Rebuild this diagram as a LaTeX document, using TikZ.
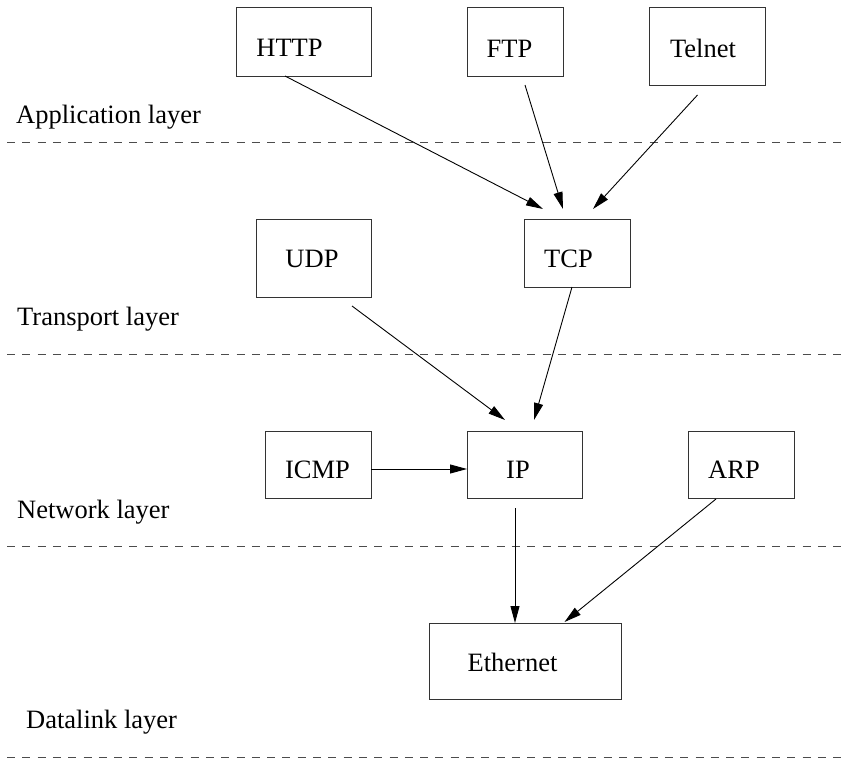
\documentclass[tikz,border=0pt]{standalone}
\usepackage{fontspec}
\setmainfont{Liberation Serif}
\usetikzlibrary{arrows.meta,calc}
\begin{document}
\begin{tikzpicture}[x=1pt,y=-1pt,
  box/.style={draw=black!80,line width=1pt,inner sep=0pt,outer sep=0pt},
  every label/.style={inner sep=0pt,font=\fontsize{26.5}{30}\selectfont},
  arr/.style={line width=0.9pt,-{Triangle[length=17pt,width=9pt]}},
  layerline/.style={draw=black!70,line width=1pt,dash pattern=on 8pt off 7.3pt},
  lbl/.style={anchor=base west,inner sep=0pt,font=\fontsize{26.5}{30}\selectfont}]
\useasboundingbox (0,0) rectangle (851,760);

% layer separators
\draw[layerline] (7,142.5) -- (844,142.5);
\draw[layerline] (7,354) -- (844,354);
\draw[layerline] (7,546) -- (844,546);
\draw[layerline] (7,757) -- (844,757);

% layer labels
\node[lbl] (lapp) at (16,123) {Application layer};
\node[lbl] (ltra) at (17,325) {Transport layer};
\node[lbl] (lnet) at (17,518) {Network layer};
\node[lbl] (ldat) at (26,728) {Datalink layer};

% boxes
\node[box,minimum width=135pt,minimum height=68pt,label={[xshift=-14pt,yshift=-6pt]center:HTTP}] (http) at (303.5,42) {};
\node[box,minimum width=96pt,minimum height=68pt,label={[xshift=-5.5pt,yshift=-6.5pt]center:FTP}] (ftp) at (515,42) {};
\node[box,minimum width=116pt,minimum height=77pt,label={[xshift=-4.5pt,yshift=-1.5pt]center:Telnet}] (telnet) at (707.5,46.5) {};
\node[box,minimum width=115pt,minimum height=78pt,label={[xshift=-1.5pt,yshift=-1pt]center:UDP}] (udp) at (313.5,258) {};
\node[box,minimum width=106pt,minimum height=68pt,label={[xshift=-8.5pt,yshift=-6pt]center:TCP}] (tcp) at (577,253) {};
\node[box,minimum width=106pt,minimum height=67pt,label={[xshift=-0.5pt,yshift=-5.5pt]center:ICMP}] (icmp) at (318,464.5) {};
\node[box,minimum width=115pt,minimum height=67pt,label={[xshift=-6.5pt,yshift=-5.5pt]center:IP}] (ip) at (524.5,464.5) {};
\node[box,minimum width=106pt,minimum height=67pt,label={[xshift=-7pt,yshift=-5.5pt]center:ARP}] (arp) at (741,464.5) {};
\node[box,minimum width=192pt,minimum height=76pt,label={[xshift=-12.5pt,yshift=-1pt]center:Ethernet}] (eth) at (525,661) {};

% connectors
\draw[arr] ($(http.south)+(-18.5,0)$) -- ($(tcp.north)+(-34,-10)$);
\draw[arr] ($(ftp.south)+(10,9)$) -- ($(tcp.north)+(-14,-10)$);
\draw[arr] ($(telnet.south)+(-10,10)$) -- ($(tcp.north)+(16,-10)$);
\draw[arr] ($(udp.south)+(38.5,9)$) -- ($(ip.north)+(-19.5,-11)$);
\draw[arr] ($(tcp.south)+(-5,0)$) -- ($(ip.north)+(9.5,-11)$);
\draw[arr] ($(icmp.east)+(0,4.5)$) -- ($(ip.west)+(0,4.5)$);
\draw[arr] ($(ip.south)+(-9.5,10)$) -- ($(eth.north)+(-10,0)$);
\draw[arr] ($(arp.south)+(-25,1)$) -- ($(eth.north)+(39.5,-1)$);
\end{tikzpicture}
\end{document}
